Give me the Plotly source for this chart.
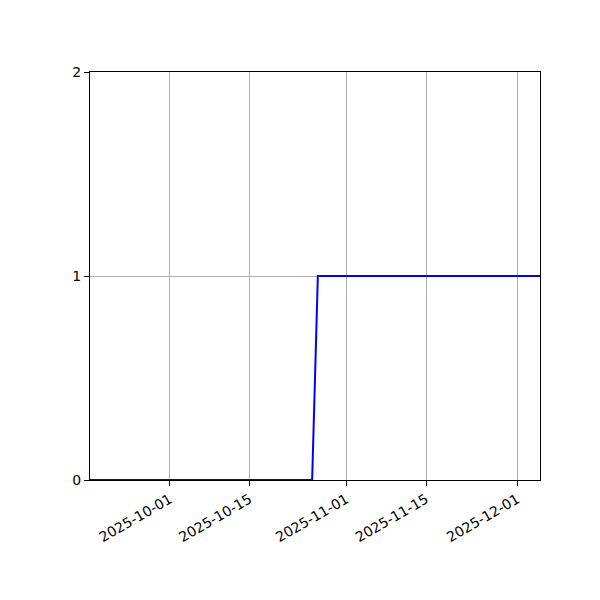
import plotly.graph_objects as go

dates = ["2025-09-17", "2025-10-26", "2025-10-27", "2025-12-05"]
values = [0, 0, 1, 1]
tick_dates = ["2025-10-01", "2025-10-15", "2025-11-01", "2025-11-15", "2025-12-01"]
y_ticks = [0, 1, 2]

fig = go.Figure()
fig.add_trace(go.Scatter(x=dates, y=values, mode="lines",
                         line=dict(color="#0000ff", width=2), showlegend=False))

axis_common = dict(showline=True, linecolor="black", linewidth=1, mirror=True,
                   showgrid=True, gridcolor="#b0b0b0", gridwidth=1,
                   ticks="outside", ticklen=5, tickcolor="black", zeroline=False,
                   tickfont=dict(family="DejaVu Sans", size=14, color="black"))

fig.update_xaxes(range=["2025-09-17", "2025-12-05"], tickvals=tick_dates,
                 ticktext=tick_dates, tickangle=-30, **axis_common)
fig.update_yaxes(range=[0, 2], tickvals=y_ticks, ticktext=[str(v) for v in y_ticks],
                 **axis_common)

fig.update_layout(width=600, height=600, paper_bgcolor="white", plot_bgcolor="white",
                  margin=dict(l=82, r=68, t=64, b=128), showlegend=False)

fig.write_html("out.html")
